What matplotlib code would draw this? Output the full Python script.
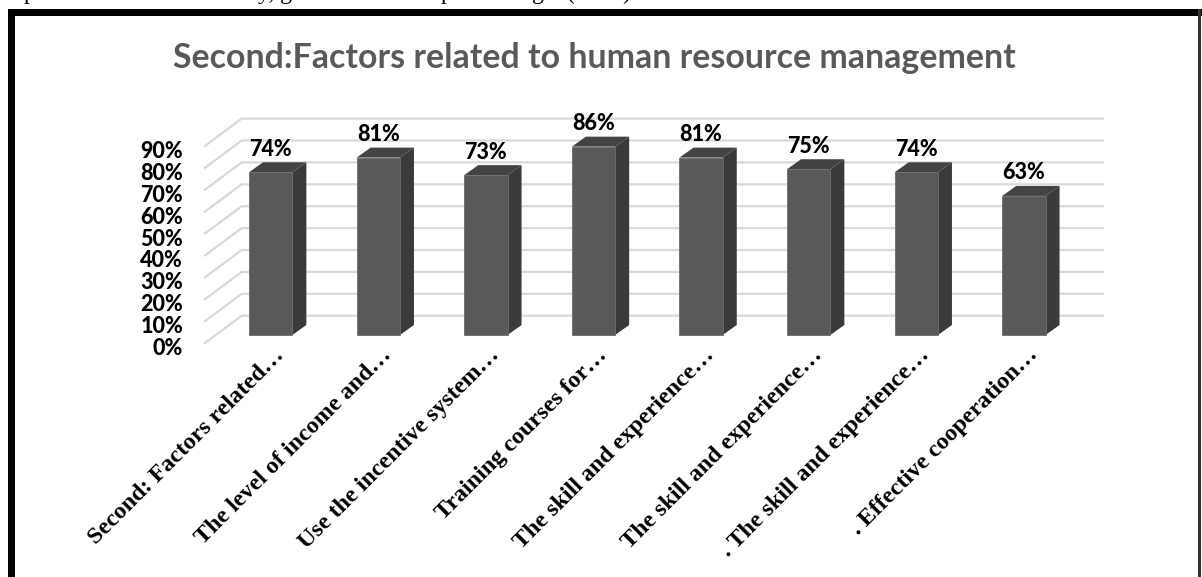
import matplotlib
matplotlib.use("Agg")
import matplotlib.pyplot as plt
from matplotlib.patches import Polygon, Rectangle
from matplotlib.transforms import ScaledTranslation

categories = ["Second: Factors related…", "The level of income and…", "Use the incentive system…",
              "Training courses for…", "The skill and experience…", "The skill and experience…",
              ". The skill and experience…", ". Effective cooperation…"]
values = [74.3, 81, 73, 86, 81, 75.7, 74.3, 63.5]
value_labels = ["74%", "81%", "73%", "86%", "81%", "75%", "74%", "63%"]
y_ticks = [0, 10, 20, 30, 40, 50, 60, 70, 80, 90]
title = "Second:Factors related to human resource management"

W, H = 1202, 577
PXY = 2.19     # pixels per percent
PXX = 107.6    # pixels per category
BAR_W = 43.3 / PXX
DEPTH_X = 14 / PXX
DEPTH_Y = 10 / PXY
BASE_Y = 8 / PXY       # bar front sits above the floor front edge
WALL_Y = 27.3 / PXY
WALL_X = 36.7 / PXX

fig = plt.figure(figsize=(W / 100, H / 100), dpi=100)
fig.patch.set_facecolor("white")

# outer frame, open at the bottom of the crop
frame = fig.add_axes([0, 0, 1, 1])
frame.set_xlim(0, W)
frame.set_ylim(H, 0)
frame.axis("off")
frame.add_patch(Rectangle((8, 9), 1194, 6.5, color="black", lw=0))
frame.add_patch(Rectangle((8, 9), 7, H, color="black", lw=0))
frame.add_patch(Rectangle((1198, 9), 2.5, H, color="#333333", lw=0))
frame.text(594, 58, title, ha="center", va="center", fontsize=24.4, fontweight="bold",
           family="Lato", color="#595959")

# caption line of the page above, only descenders stay in the crop
for cx, frag in [(24, "p"), (258, "y, g"), (441, "p"), (532, "g"), (567, "("), (622, ")")]:
    frame.text(cx, -0.5, frag, family="Liberation Serif", fontsize=17, color="black", va="baseline")

left, right, bottom, top = 205, 1103, 343, 118
ax = fig.add_axes([left / W, 1 - bottom / H, (right - left) / W, (bottom - top) / H])
ax.patch.set_alpha(0)
ax.set_ylim(0, (bottom - top) / PXY)
ax.set_xlim((left - 270.7) / PXX, (right - 270.7) / PXX)
for s in ax.spines.values():
    s.set_visible(False)

x0 = ax.get_xlim()[0]
for v in y_ticks:
    ax.plot([x0, x0 + WALL_X, ax.get_xlim()[1]], [v, v + WALL_Y, v + WALL_Y],
            color="#d9d9d9", lw=1.6, zorder=1, clip_on=False, solid_joinstyle="miter")

for i, v in enumerate(values):
    l = i - BAR_W / 2
    r = i + BAR_W / 2
    b = BASE_Y
    t = BASE_Y + v
    ax.add_patch(Polygon([(r, b), (r + DEPTH_X, b + DEPTH_Y), (r + DEPTH_X, t + DEPTH_Y), (r, t)],
                         facecolor="#3a3a3a", edgecolor="none", zorder=3))
    ax.add_patch(Polygon([(l, t), (r, t), (r + DEPTH_X, t + DEPTH_Y), (l + DEPTH_X, t + DEPTH_Y)],
                         facecolor="#434343", edgecolor="none", zorder=3))
    ax.bar(i, v, BAR_W, bottom=b, color="#595959", edgecolor="#6b6b6b", linewidth=0.6, zorder=4)
    ax.text(i, t + DEPTH_Y + 1.2, value_labels[i], ha="center", va="bottom", fontsize=15.5,
            fontweight=900, family="Lato", color="black", zorder=5)

ax.set_yticks(y_ticks)
ax.set_yticklabels([f"{v}%" for v in y_ticks], fontsize=15.5, fontweight=900, family="Lato", color="black")
ax.tick_params(axis="y", length=0, pad=22 * 0.72)
nudge = ScaledTranslation(0, -3.5 / 100, fig.dpi_scale_trans)
for lab in ax.get_yticklabels():
    lab.set_transform(lab.get_transform() + nudge)
ax.set_xticks(range(len(categories)))
ax.set_xticklabels([])
ax.tick_params(axis="x", length=0)

for i, c in enumerate(categories):
    ax.annotate(c, xy=(i, 0), xycoords=("data", "axes fraction"), xytext=(3 * 0.72, -1.5 * 0.72),
                textcoords="offset points", rotation=45, rotation_mode="anchor", ha="right", va="top",
                fontsize=17.3, fontweight="bold", family="Liberation Serif", color="black")

fig.savefig("out.png", dpi=100)
